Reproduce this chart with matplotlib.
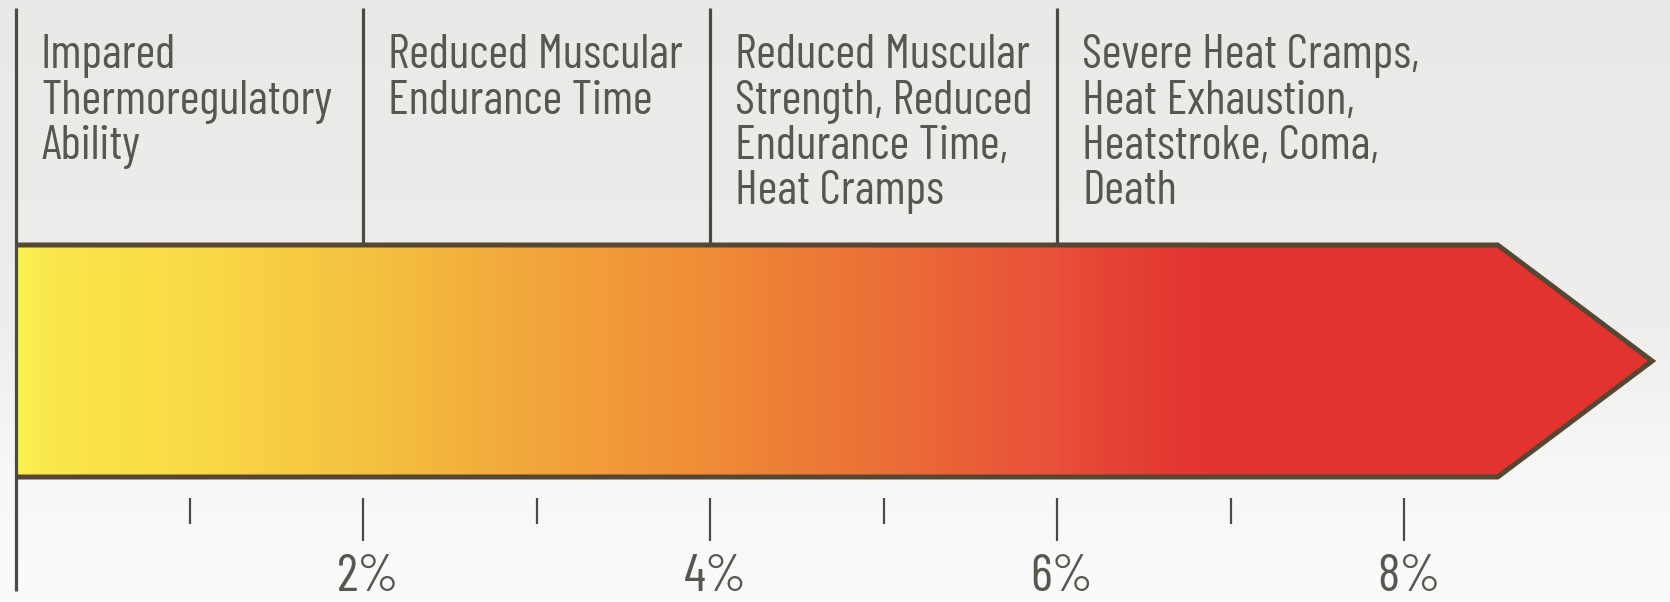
import numpy as np
import matplotlib.pyplot as plt
from matplotlib import font_manager
from matplotlib.colors import LinearSegmentedColormap
from matplotlib.patches import Polygon

# dehydration level (% body weight lost) where each stage starts
stage_starts = [0, 2, 4, 6]
stage_labels = [
    ["Impared", "Thermoregulatory", "Ability"],
    ["Reduced Muscular", "Endurance Time"],
    ["Reduced Muscular", "Strength, Reduced", "Endurance Time,", "Heat Cramps"],
    ["Severe Heat Cramps,", "Heat Exhaustion,", "Heatstroke, Coma,", "Death"],
]
minor_ticks = [1, 3, 5, 7]
major_ticks = [2, 4, 6, 8]
tick_labels = ["2%", "4%", "6%", "8%"]

# arrow shape, in % units
bar_end = 8.54
arrow_tip = 9.43

# colour stops along the bar (position in %, colour)
grad_pos = [0.0, 0.15, 1.0, 2.0, 3.0, 4.0, 5.0, 6.0, 6.5, 6.9, 9.5]
grad_col = ["#fbf050", "#fbe84c", "#f9da46", "#f5c240", "#f2a53b", "#f08b37",
            "#eb6f36", "#e8503a", "#e43d33", "#e2332f", "#e2332f"]

text_color = "#57574f"
line_color = "#4b4b43"

available = {f.name for f in font_manager.fontManager.ttflist}
font = "DejaVu Sans"
for name in ["Barlow Condensed", "Roboto Condensed", "IBM Plex Sans Condensed"]:
    if name in available:
        font = name
        break

W, H = 1670, 602
px_per_pct = 173.5
x0 = 16 / px_per_pct

fig = plt.figure(figsize=(W / 100, H / 100), dpi=100)
ax = fig.add_axes([0, 0, 1, 1])
xmin, xmax = -x0, (W - 16) / px_per_pct
ax.set_xlim(xmin, xmax)
ax.set_ylim(H, 0)
ax.axis("off")

# background: light grey on top fading to near white at the bottom
bg = np.linspace(0, 1, 200).reshape(-1, 1)
bg_cmap = LinearSegmentedColormap.from_list(
    "bg", [(0, "#e9e9e8"), (0.55, "#eeeeed"), (0.8, "#f8f8f8"), (1, "#fbfbfb")])
ax.imshow(bg, cmap=bg_cmap, aspect="auto", extent=(xmin, xmax, H, 0), zorder=0)

bar_top, bar_bot = 245, 477
mid = (bar_top + bar_bot) / 2
shape = [(0, bar_top), (bar_end, bar_top), (arrow_tip, mid),
         (bar_end, bar_bot), (0, bar_bot)]

# horizontal colour gradient clipped to the arrow
stops = [(p / grad_pos[-1], c) for p, c in zip(grad_pos, grad_col)]
bar_cmap = LinearSegmentedColormap.from_list("heat", stops)
grad = np.linspace(0, 1, 800).reshape(1, -1)
img = ax.imshow(grad, cmap=bar_cmap, aspect="auto",
                extent=(0, grad_pos[-1], bar_bot, bar_top), zorder=2)
clip = Polygon(shape, closed=True, transform=ax.transData)
img.set_clip_path(clip)
ax.add_patch(Polygon(shape, closed=False, fill=False,
                     edgecolor="#574632", lw=3.6, joinstyle="miter", zorder=3))

# stage dividers above the bar
for s in stage_starts:
    y_bottom = 591 if s == 0 else bar_top
    ax.plot([s, s], [8, y_bottom], color=line_color, lw=2.3, zorder=4,
            solid_capstyle="butt")

for s, lines in zip(stage_starts, stage_labels):
    for i, line in enumerate(lines):
        ax.text(s + 25 / px_per_pct, 68 + 45.5 * i, line, fontsize=34.5,
                family=font, color=text_color, va="baseline", ha="left", zorder=5)

# scale ticks below the bar
for t in minor_ticks:
    ax.plot([t, t], [498, 524], color=line_color, lw=1.6, solid_capstyle="butt")
for t, lab in zip(major_ticks, tick_labels):
    ax.plot([t, t], [498, 541], color=line_color, lw=1.6, solid_capstyle="butt")
    ax.text(t + 5 / px_per_pct, 591, lab, fontsize=38, family=font,
            color=text_color, ha="center", va="baseline")

fig.savefig("out.png", dpi=100)
